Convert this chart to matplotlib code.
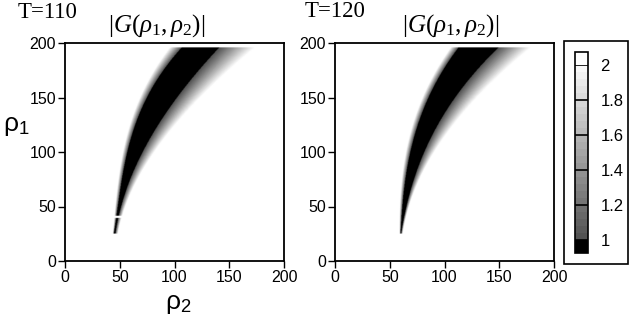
import numpy as np
import matplotlib
matplotlib.use("Agg")
import matplotlib.pyplot as plt
from matplotlib.colors import LinearSegmentedColormap, BoundaryNorm
from matplotlib.patches import Rectangle

plt.rcParams['mathtext.fontset'] = 'custom'
plt.rcParams['mathtext.rm'] = 'Liberation Serif'
plt.rcParams['mathtext.it'] = 'Liberation Serif:italic'
plt.rcParams['mathtext.sf'] = 'Liberation Sans'
plt.rcParams['font.family'] = 'Liberation Sans'

# band of |G|: rho1 rows, rho2 edges of the black core,
# and widths of the grey fade on each side
rho1_rows = [25, 50, 75, 100, 125, 150, 175, 196]

core_lo_110 = [45, 47, 52, 57, 65, 74, 89, 107]
core_hi_110 = [46, 51, 60, 70, 86, 102, 122, 141]
fade_lo_110 = [1, 2, 3, 4, 5, 6, 8, 11]
fade_hi_110 = [2, 4, 7, 10, 15, 21, 27, 32]
gap_110 = [39.5, 41.5]

core_lo_120 = [60, 61, 64, 69, 76, 85, 98, 113]
core_hi_120 = [60.5, 65, 72, 81, 95, 110, 128, 150]
fade_lo_120 = [1, 2, 3, 4, 5, 5, 6, 7]
fade_hi_120 = [1, 3, 5, 8, 14, 20, 25, 29]

titles = ["T=110", "T=120"]
cbar_ticks = [1, 1.2, 1.4, 1.6, 1.8, 2]


def smooth(vals, Y):
    # smooth curve through the read-off edge points
    c = np.polyfit(rho1_rows, vals, 3)
    return np.polyval(c, Y)


def field(lo, hi, wlo, whi, gap=None):
    r = np.linspace(0, 200, 501)
    X, Y = np.meshgrid(r, r)
    L = smooth(lo, Y)
    H = np.maximum(smooth(hi, Y), L + 0.3)
    WL = np.maximum(smooth(wlo, Y), 0.5)
    WH = np.maximum(smooth(whi, Y), 0.5)
    Z = np.full(X.shape, 0.9)
    left = X < L
    right = X > H
    Z[left] = 1 + (L - X)[left] / WL[left]
    Z[right] = 1 + (X - H)[right] / WH[right]
    Z = np.minimum(Z, 2.1)
    Z[(Y < rho1_rows[0]) | (Y > rho1_rows[-1])] = 2.1
    if gap is not None:
        Z[(Y > gap[0]) & (Y < gap[1])] = 2.1
    return Z


fields = [field(core_lo_110, core_hi_110, fade_lo_110, fade_hi_110, gap_110),
          field(core_lo_120, core_hi_120, fade_lo_120, fade_hi_120)]

cmap = LinearSegmentedColormap.from_list("g", [(0.3, 0.3, 0.3), (1, 1, 1)])
cmap.set_under("black")
cmap.set_over("white")
levels = np.linspace(1, 2, 26)
norm = BoundaryNorm(levels, cmap.N, extend="both")

fig = plt.figure(figsize=(6.32, 3.16), dpi=100)
W, Hf = 632, 316

def fx(px):
    return px / W

def fy(py):
    return 1 - py / Hf

axes_left = [65, 335]
for i, (x0, Z) in enumerate(zip(axes_left, fields)):
    ax = fig.add_axes([fx(x0), fy(261), 219 / W, 218 / Hf])
    im = ax.imshow(Z, origin="lower", extent=[0, 200, 0, 200], cmap=cmap,
                   norm=norm, interpolation="bilinear", aspect="auto")
    ax.set_xlim(0, 200)
    ax.set_ylim(0, 200)
    ax.set_xticks([0, 50, 100, 150, 200])
    ax.set_yticks([0, 50, 100, 150, 200])
    ax.tick_params(direction="out", length=5, width=1, labelsize=11.5, pad=1.5)
    for s in ax.spines.values():
        s.set_linewidth(1.3)

fig.text(fx(18), fy(18), titles[0], family="Liberation Serif", fontsize=16.5, va="baseline")
fig.text(fx(305), fy(17), titles[1], family="Liberation Serif", fontsize=16.5, va="baseline")
for cx in [157, 451]:
    fig.text(fx(cx), fy(32), r"$|G(\rho_1,\rho_2)|$", fontsize=18,
             ha="center", va="baseline")

fig.text(fx(16), fy(126), r"$\mathsf{ρ}_\mathsf{1}$", fontsize=19, ha="center", va="center")
fig.text(fx(178), fy(304), r"$\mathsf{ρ}_\mathsf{2}$", fontsize=19, ha="center", va="center")

cax = fig.add_axes([fx(575), fy(253), 13 / W, 201 / Hf])
cb = fig.colorbar(im, cax=cax, extend="both", extendrect=True, extendfrac=0.072,
                  ticks=cbar_ticks)
cb.ax.minorticks_off()
cb.ax.set_yticklabels(["1", "1.2", "1.4", "1.6", "1.8", "2"])
cb.ax.tick_params(which="both", length=0, labelsize=12, pad=9)
cb.outline.set_linewidth(1.2)
for t in cbar_ticks:
    cb.ax.axhline(t, color="black", lw=1.2)

fig.patches.append(Rectangle((fx(564), fy(264)), 64 / W, 223 / Hf,
                             transform=fig.transFigure, fill=False,
                             lw=1.2, edgecolor="black"))

fig.savefig("out.png", dpi=100)
